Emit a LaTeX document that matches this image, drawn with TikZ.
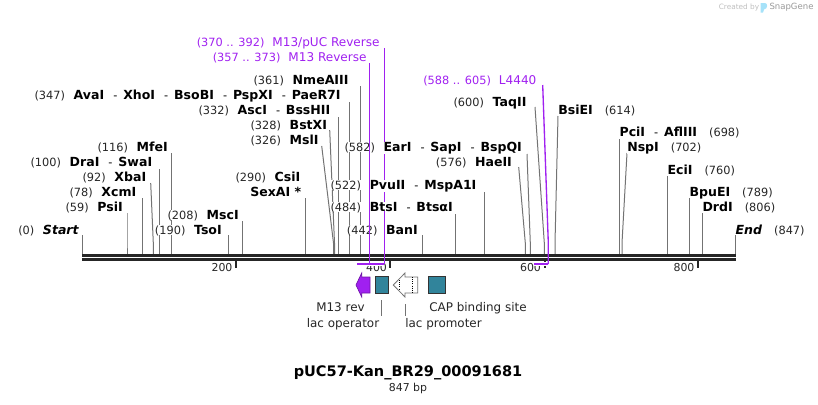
\documentclass[tikz,border=0pt]{standalone}
\usepackage{fontspec}
\setmainfont{DejaVu Sans}
\definecolor{primerc}{HTML}{A020F0}
\definecolor{bindc}{HTML}{31849B}
\definecolor{barc}{HTML}{262626}
\tikzset{
  sitelabel/.style={anchor=base west,inner sep=0pt,font=\fontsize{9.4pt}{11pt}\selectfont,text=black,fill=white},
  sitelink/.style={draw=black!55,line width=0.75pt},
  primerlink/.style={draw=primerc,line width=1pt},
  primerlabel/.style={anchor=base west,inner sep=0pt,font=\fontsize{9.05pt}{11pt}\selectfont,text=primerc},
  featlabel/.style={anchor=base,inner sep=0pt,font=\fontsize{8.95pt}{11pt}\selectfont,text=black!85},
  ticklabel/.style={anchor=base,inner sep=0pt,font=\fontsize{8.2pt}{10pt}\selectfont,text=black!85},
  bindbox/.style={draw=black!80,fill=bindc,minimum height=12.5pt,inner sep=0pt},
}
\newcommand{\numt}[1]{{\fontsize{8.5pt}{11pt}\selectfont(#1)}}
\newcommand{\sitenum}[2]{{\color{black!85}\numt{#1}}\hspace{6.5pt}\textbf{#2}}
\newcommand{\numsite}[2]{\textbf{#1}\hspace{9pt}{\color{black!85}\numt{#2}}}
\newcommand{\sitesep}{\hspace{6.8pt}{\normalfont\fontsize{8.5pt}{11pt}\selectfont-}\hspace{4.4pt}}
\begin{document}
\begin{tikzpicture}[x=0.75pt,y=-0.75pt]
  \useasboundingbox (0,0) rectangle (818,404);
  % site lines: name/top x/top y/bottom x
  \foreach \n/\xa/\ya/\xb in {psi/127/213/127,xcm/142.3/198/142.3,xba/150.7/183/153.3,
    dra/159.3/169/159.3,mfe/171.3/153/171.3,tso/228.3/235/228.3,msc/242.3/221/242.3,
    sex/305.3/198/305.3,msl/321.7/146/333.5,bstx/329.7/130/334.5,asc/338.3/117/338.3,
    ava/349.3/102/349.3,nme/360.3/86/360.3,ban/422.3/235/422.3,bts/455.3/214/455.3,
    pvu/484.3/192/484.3,hae/518.7/167/525.3,ear/527/154/530.3,taq/535/107/544.3,
    bsi/558/116/555,pci/619.3/139/619.3,nsp/627/153/622,eci/667.3/176/667.3,
    bpu/689.3/198/689.3,drd/702.3/213/702.3,start/82.3/235/82.3,end/735.3/235/735.3}{
    \coordinate (\n top) at (\xa,\ya);
    \coordinate (\n bend) at (\xb,243);
    \coordinate (\n foot) at (\xb,254);
    \draw[sitelink] (\n top) -- (\n bend) -- (\n foot);
  }
  % backbone
  \fill[barc] (82.3,254) rectangle (735.5,257);
  \fill[barc] (82.3,258) rectangle (735.5,261);
  \foreach \x in {236,390,544.5,698}{\draw[barc,line width=1.5pt] (\x,261) -- (\x,268);}
  \foreach \n/\x/\t in {t200/222/200,t400/376.5/400,t600/530.5/600,t800/684/800}{
    \node[ticklabel] (\n) at (\x,271.5) {\t};
  }
  % labels
  \node[sitelabel] (start) at (18,234) {{\color{black!85}\numt{0}}\hspace{6.5pt}\textbf{\textit{Start}}};
  \node[sitelabel] (psi) at (65.3,211) {\sitenum{59}{PsiI}};
  \node[sitelabel] (xcm) at (69.3,196) {\sitenum{78}{XcmI}};
  \node[sitelabel] (xba) at (82.3,181) {\sitenum{92}{XbaI}};
  \node[sitelabel] (dra) at (30.3,166) {\sitenum{100}{DraI\sitesep SwaI}};
  \node[sitelabel] (mfe) at (97.3,151) {\sitenum{116}{MfeI}};
  \node[sitelabel] (ava) at (34.3,99) {\sitenum{347}{AvaI\sitesep XhoI\sitesep BsoBI\sitesep PspXI\sitesep PaeR7I}};
  \node[sitelabel] (tso) at (154.7,234) {\sitenum{190}{TsoI}};
  \node[sitelabel] (msc) at (167.3,219) {\sitenum{208}{MscI}};
  \node[sitelabel] (csi) at (235.3,181) {\sitenum{290}{CsiI}};
  \node[sitelabel] (sex) at (250,196) {\textbf{SexAI *}};
  \node[sitelabel] (msl) at (250.3,144) {\sitenum{326}{MslI}};
  \node[sitelabel] (bstx) at (250.3,129) {\sitenum{328}{BstXI}};
  \node[sitelabel] (asc) at (198.3,114) {\sitenum{332}{AscI\sitesep BssHII}};
  \node[sitelabel] (nme) at (253.3,84) {\sitenum{361}{NmeAIII}};
  \node[sitelabel] (ban) at (346.7,234) {\sitenum{442}{BanI}};
  \node[sitelabel,text=black!85] (btsnum) at (330.3,211) {\numt{484}};
  \node[sitelabel,text=black!85] (pvunum) at (330.3,189) {\numt{522}};
  \node[sitelabel] (hae) at (435.7,166) {\sitenum{576}{HaeII}};
  \node[sitelabel,text=black!85] (earnum) at (344.3,151) {\numt{582}};
  \node[sitelabel] (taq) at (453.3,106) {\sitenum{600}{TaqII}};
  \node[sitelabel] (bsi) at (558,114) {\numsite{BsiEI}{614}};
  \node[sitelabel] (pci) at (619.3,136) {\numsite{PciI\sitesep AflIII}{698}};
  \node[sitelabel] (nsp) at (627,151) {\numsite{NspI}{702}};
  \node[sitelabel] (eci) at (667.3,174) {\numsite{EciI}{760}};
  \node[sitelabel] (bpu) at (689.3,196) {\numsite{BpuEI}{789}};
  \node[sitelabel] (drd) at (702.3,211) {\numsite{DrdI}{806}};
  \node[sitelabel] (end) at (735.3,234) {\textbf{\textit{End}}\hspace{9pt}{\color{black!85}\numt{847}}};
  % primers
  \coordinate (revtop) at (369.3,63);
  \coordinate (revfoot) at (369.3,264);
  \coordinate (puctop) at (384.3,48);
  \coordinate (pucfoot) at (384.3,264);
  \coordinate (revend) at (357,264);
  \coordinate (ltop) at (542.7,85);
  \coordinate (lbend) at (548.3,243);
  \coordinate (lfoot) at (548.3,264);
  \coordinate (lend) at (534,264);
  \draw[white,line width=3pt] (revend) -- (pucfoot);
  \draw[white,line width=3pt] (lend) -- (lfoot);
  \draw[primerlink] (revtop) -- (revfoot);
  \draw[primerlink] (puctop) -- (pucfoot);
  \draw[primerlink,line width=1.5pt] (revend) -- (pucfoot);
  \draw[primerlink] (ltop) -- (lbend) -- (lfoot);
  \draw[primerlink,line width=1.5pt] (lend) -- (lfoot);
  \node[primerlabel] (puc) at (196.5,46) {\numt{370 .. 392}\hspace{6pt}M13/pUC Reverse};
  \node[primerlabel] (rev) at (212.5,61) {\numt{357 .. 373}\hspace{6pt}M13 Reverse};
  \node[primerlabel] (l44) at (423,84) {\numt{588 .. 605}\hspace{6pt}L4440};
  % names above the primer lines
  \node[sitelabel] (bts) at (369.5,211) {\textbf{BtsI\sitesep BtsαI}};
  \node[sitelabel] (pvu) at (369.5,189) {\textbf{PvuII\sitesep MspA1I}};
  \node[sitelabel] (ear) at (383.3,151) {\textbf{EarI\sitesep SapI\sitesep BspQI}};
  % features
  \draw[draw=primerc!70!black,fill=primerc,line width=0.5pt] (370,277) -- (361.7,277) -- (361.7,273) -- (356,285) -- (361.7,297) -- (361.7,293) -- (370,293) -- cycle;
  \node[bindbox,minimum width=10pt] (lacop) at (382,285) {};
  \draw[draw=black!55,fill=white,line width=0.6pt] (417.7,277) -- (405,277) -- (405,273) -- (393.3,285) -- (405,297) -- (405,293) -- (417.7,293) -- cycle;
  \draw[densely dotted,line width=0.6pt] (412.5,277) -- (412.5,293);
  \draw[densely dotted,line width=0.6pt] (399,280) -- (399,290);
  \node[bindbox,minimum width=13pt] (cap) at (437,285) {};
  \node[featlabel] (revlab) at (340.5,311) {M13 rev};
  \node[featlabel] (oplab) at (343,327) {lac operator};
  \node[featlabel] (prolab) at (443.5,327) {lac promoter};
  \node[featlabel] (caplab) at (478,311) {CAP binding site};
  \coordinate (optick) at (381.5,300);
  \coordinate (opfoot) at (381.5,316);
  \coordinate (protick) at (405.5,304);
  \coordinate (profoot) at (405.5,316);
  \draw[sitelink] (optick) -- (opfoot);
  \draw[sitelink] (protick) -- (profoot);
  % title
  \node[inner sep=0pt,font=\fontsize{10.9pt}{12pt}\selectfont\bfseries,text=black] (title) at (408,373) {pUC57-Kan\_BR29\_00091681};
  \node[inner sep=0pt,font=\fontsize{8.2pt}{10pt}\selectfont,text=black!85] (size) at (408,388) {847 bp};
  % badge
  \node[inner sep=0pt,font=\fontsize{5.5pt}{7pt}\selectfont,text=black!25] (created) at (739,7.5) {Created by};
  \fill[cyan!35] (760.5,3) -- (765,3) .. controls (768,3) and (768,9) .. (764,9.5) -- (763,12.5) -- (760.5,12.5) -- cycle;
  \node[inner sep=0pt,font=\fontsize{6.4pt}{8pt}\selectfont,text=black!40] (snap) at (791.5,7.5) {SnapGene};
\end{tikzpicture}
\end{document}
